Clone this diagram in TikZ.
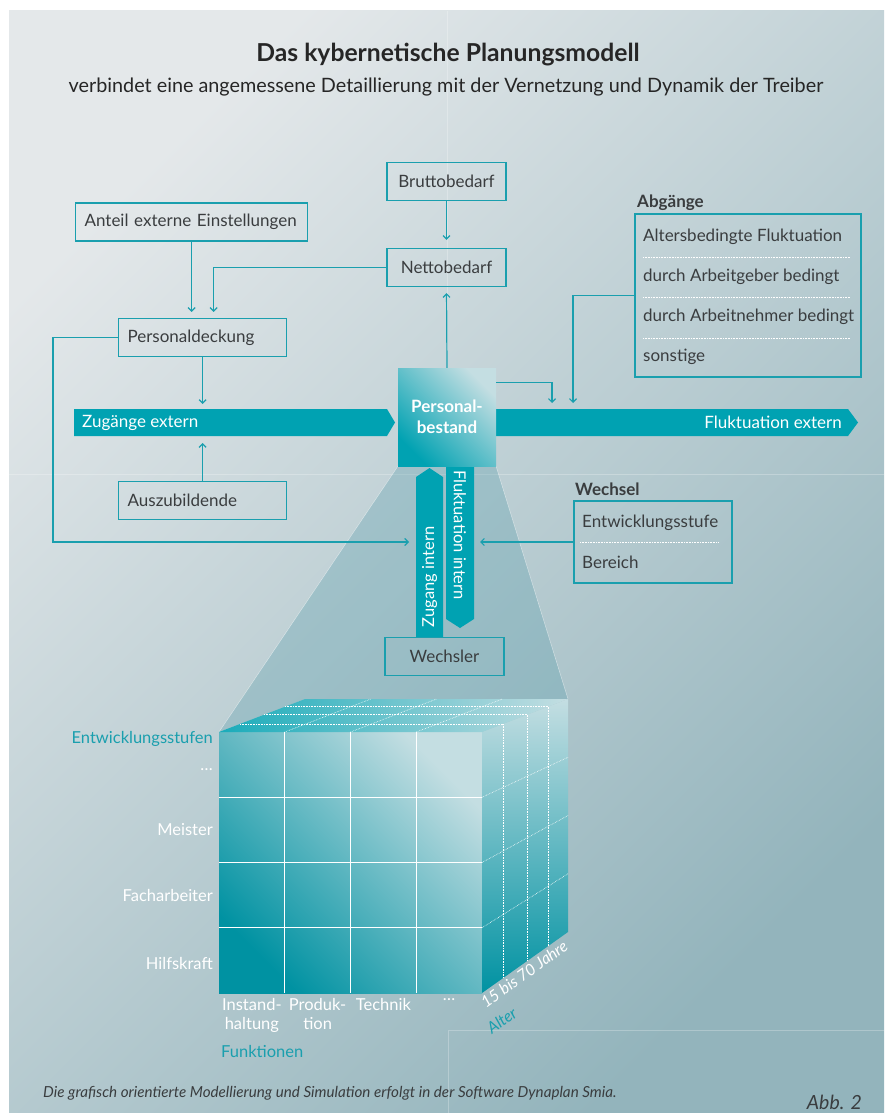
\documentclass[tikz,border=0pt]{standalone}
\usepackage{fontspec}
\setmainfont{Lato}
\usetikzlibrary{arrows.meta}

\definecolor{bgA}{HTML}{E4E8EA}
\definecolor{bgB}{HTML}{93B4BC}
\definecolor{smteal}{HTML}{00A2B2}
\definecolor{smline}{HTML}{1A9FAE}
\definecolor{smlight}{HTML}{C4DEE2}
\definecolor{smdark}{HTML}{0092A2}
\definecolor{smtext}{HTML}{3A3D3F}
\definecolor{smshade}{HTML}{5A9EAC}

\tikzset{
    box/.style={draw=smline, line width=1.2pt, minimum height=38pt, inner sep=0pt,
        text=smtext, font=\fontsize{17}{20}\selectfont},
    lbox/.style={box, anchor=west, align=left, inner xsep=9pt},
    item/.style={anchor=west, inner sep=0pt, text=smtext, font=\fontsize{17}{20}\selectfont},
    head/.style={anchor=base west, inner sep=0pt, text=smtext, font=\fontsize{17}{20}\bfseries},
    sep/.style={white, densely dotted, line width=0.6pt},
    link/.style={draw=smline, line width=1.2pt, ->, shorten >=6pt},
    band/.style={fill=smteal},
    bandtext/.style={inner sep=0pt, text=white, font=\fontsize{17}{20}\selectfont},
    cubetext/.style={inner sep=0pt, text=white, font=\fontsize{16.5}{19}\selectfont},
    grid/.style={white, line width=0.9pt},
    dgrid/.style={white, densely dotted, line width=0.6pt},
    >={Straight Barb[length=3.5pt,width=7pt]}
}

\begin{document}
\begin{tikzpicture}[x=1pt, y=-1pt]
    % Definitions
    \def \cell{65.75}
    \def \row{65.25}
    \useasboundingbox (0,0) rectangle (884,1113);
    \fill[white] (0,0) rectangle (884,1113);
    %%%
    %%% Background
    %%%
    \shade[top color=bgA, bottom color=bgB, shading angle=45] (9,11) rectangle (884,1113);
    % Faint panel seams
    \draw[white, opacity=0.25, line width=0.6pt] (9,474) -- (884,474);
    \draw[white, opacity=0.25, line width=0.6pt] (447,11) -- (447,474);
    \draw[white, opacity=0.25, line width=0.6pt] (448,1113) -- (448,1030) -- (884,1030);
    % Title
    \node[anchor=base, inner sep=0pt, text=black!85, font=\fontsize{24.7}{28}\bfseries] (title) at (448,62) {Das kybernetische Planungsmodell};
    \node[anchor=base, inner sep=0pt, text=black!85, font=\fontsize{19.8}{23}\selectfont] (subtitle) at (446,93) {verbindet eine angemessene Detaillierung mit der Vernetzung und Dynamik der Treiber};
    %%%
    %%% Projection onto the cube
    %%%
    \coordinate (pb-sw) at (398,466);
    \coordinate (pb-se) at (496,466);
    \fill[smshade, fill opacity=0.32] (pb-sw) -- (219,732) -- (305,699) -- (568,699) -- (pb-se) -- cycle;
    \draw[white, opacity=0.5, line width=0.5pt] (pb-sw) -- (219,732);
    \draw[white, opacity=0.5, line width=0.5pt] (pb-se) -- (568,699);
    %%%
    %%% Cube
    %%%
    % Faces
    \shade[top color=smlight, middle color=smteal, bottom color=smdark, shading angle=-45] (219,732) rectangle (482,993);
    \shade[top color=smlight, middle color=smteal!75!smlight, bottom color=smdark] (482,732) -- (568,699) -- (568,932) -- (482,993) -- cycle;
    \shade[left color=smteal!90!white, right color=smlight] (219,732) -- (305,699) -- (568,699) -- (482,732) -- cycle;
    % Front grid
    \foreach \i in {1,2,3}
    {
        \draw[grid] ({219+\cell*\i},732) -- ({219+\cell*\i},993);
        \draw[grid] (219,{732+\row*\i}) -- (482,{732+\row*\i});
        \draw[dgrid] (482,{732+\row*\i}) -- (568,{699+58.25*\i});
        \draw[dgrid] ({219+\cell*\i},732) -- ({305+\cell*\i},699);
    }
    % Depth grid
    \foreach \f in {0.244, 0.523, 0.767}
    {
        \draw[dgrid] ({482+86*\f},{732-33*\f}) -- ({482+86*\f},{993-61*\f});
        \draw[dgrid] ({219+86*\f},{732-33*\f}) -- ({482+86*\f},{732-33*\f});
    }
    % Levels
    \node[cubetext, anchor=base east, text=smline] (lvl) at (213,743) {Entwicklungsstufen};
    \node[cubetext, anchor=base east] (lvl-4) at (213,770) {…};
    \node[cubetext, anchor=base east] (lvl-3) at (213,835) {Meister};
    \node[cubetext, anchor=base east] (lvl-2) at (213,901) {Facharbeiter};
    \node[cubetext, anchor=base east] (lvl-1) at (213,969) {Hilfskraft};
    % Functions
    \foreach \txt [count=\i] in {Instand-\\haltung, Produk-\\tion, Technik, …}
    {
        \node[cubetext, anchor=north, align=center] (fn-\i) at ({219+\cell*(\i-0.5)},998) {\txt};
    }
    \node[cubetext, anchor=base west, text=smline] (fn) at (221,1057) {Funktionen};
    % Age
    \node[cubetext, anchor=base west, rotate=36, font=\fontsize{16}{19}\itshape] (age) at (486,1009) {15 bis 70 Jahre};
    \node[cubetext, anchor=base west, rotate=36, text=smline, font=\fontsize{16}{19}\itshape] (age-l) at (492,1035) {Alter};
    %%%
    %%% Flows
    %%%
    \fill[band] (74,409) -- (387,409) -- (395,422.5) -- (387,436) -- (74,436) -- cycle;
    \node[bandtext, anchor=west] (zext) at (82,422.5) {Zugänge extern};
    \fill[band] (496,409) -- (848,409) -- (858,422.5) -- (848,436) -- (496,436) -- cycle;
    \node[bandtext, anchor=east] (fext) at (842,422.5) {Fluktuation extern};
    \fill[band] (416,637) -- (416,477) -- (429.5,468) -- (443,477) -- (443,637) -- cycle;
    \node[bandtext, rotate=90, font=\fontsize{16.5}{19}\selectfont] (zint) at (429.5,577) {Zugang intern};
    \fill[band] (446,466) -- (474,466) -- (474,619) -- (460,628) -- (446,619) -- cycle;
    \node[bandtext, rotate=-90, font=\fontsize{16.5}{19}\selectfont] (fint) at (460,535) {Fluktuation intern};
    % Connector ends on the flows
    \coordinate (zext-n) at (230,409);
    \coordinate (zext-s) at (230,436);
    \coordinate (fext-a) at (552,409);
    \coordinate (fext-b) at (573,409);
    \coordinate (zint-w) at (416,542);
    \coordinate (fint-e) at (474,542);
    \coordinate (loop) at (53,542);
    %%%
    %%% Stock
    %%%
    \node[minimum size=98pt, inner sep=0pt, align=center, text=white,
        font=\fontsize{17}{21}\bfseries,
        top color=smlight, middle color=smteal, bottom color=smteal, shading angle=-45] (pbest) at (447,417) {Personal-\\bestand};
    %%%
    %%% Boxes
    %%%
    \node[box, minimum width=119pt] (brutto) at (446.5,181.5) {Bruttobedarf};
    \node[box, minimum width=119pt] (netto) at (446.5,267.5) {Nettobedarf};
    \node[lbox, text width=214pt] (anteil) at (75,222) {Anteil externe Einstellungen};
    \node[lbox, text width=150pt] (pdeck) at (118,337.5) {Personaldeckung};
    \node[lbox, text width=150pt] (azubi) at (118,500.5) {Auszubildende};
    \node[box, minimum width=119pt] (wechsler) at (444.5,656.5) {Wechsler};
    % Abgaenge
    \node[head] (abg-head) at (637,207) {Abgänge};
    \node[box, minimum width=226pt, minimum height=163pt] (abg) at (748,295.5) {};
    \foreach \txt [count=\i] in {Altersbedingte Fluktuation, durch Arbeitgeber bedingt, durch Arbeitnehmer bedingt, sonstige}
    {
        \node[item] (abg-\i) at (643,{197+40*\i}) {\txt};
    }
    \foreach \y in {257, 297.5, 338}
    {
        \draw[sep] (643,\y) -- (850,\y);
    }
    % Wechsel
    \node[head] (wech-head) at (575,495) {Wechsel};
    \node[box, minimum width=158pt, minimum height=82pt] (wech) at (653,542) {};
    \node[item] (wech-1) at (582,523) {Entwicklungsstufe};
    \node[item] (wech-2) at (582,562) {Bereich};
    \draw[sep] (580,542) -- (718,542);
    %%%
    %%% Connectors
    %%%
    \draw[link, shorten >=8pt] (brutto.south) -- (netto.north);
    \draw[link] (pbest.north) -- (netto.south);
    \draw[link] (netto.west) -| ([xshift=11pt]pdeck.north);
    \draw[link] (anteil.south) -- (anteil.south |- pdeck.north);
    \draw[link, shorten >=5pt] (pdeck.south) -- (pdeck.south |- zext-n);
    \draw[link, shorten >=7pt] (azubi.north) -- (azubi.north |- zext-s);
    \draw[link, shorten >=7pt] (pdeck.west) -| (loop) -- (zint-w);
    \draw[link] ([yshift=-15pt]pbest.north east) -| (fext-a);
    \draw[link] (abg.west) -| (fext-b);
    \draw[link] (wech.west) -- (fint-e);
    %%%
    %%% Footer
    %%%
    \node[anchor=base west, inner sep=0pt, text=smtext, font=\fontsize{15.2}{18}\itshape] (note) at (43,1097) {Die grafisch orientierte Modellierung und Simulation erfolgt in der Software Dynaplan Smia.};
    \node[anchor=base east, inner sep=0pt, text=smtext, font=\fontsize{19.5}{22}\itshape] (abb) at (862,1109) {Abb. 2};
\end{tikzpicture}
\end{document}
